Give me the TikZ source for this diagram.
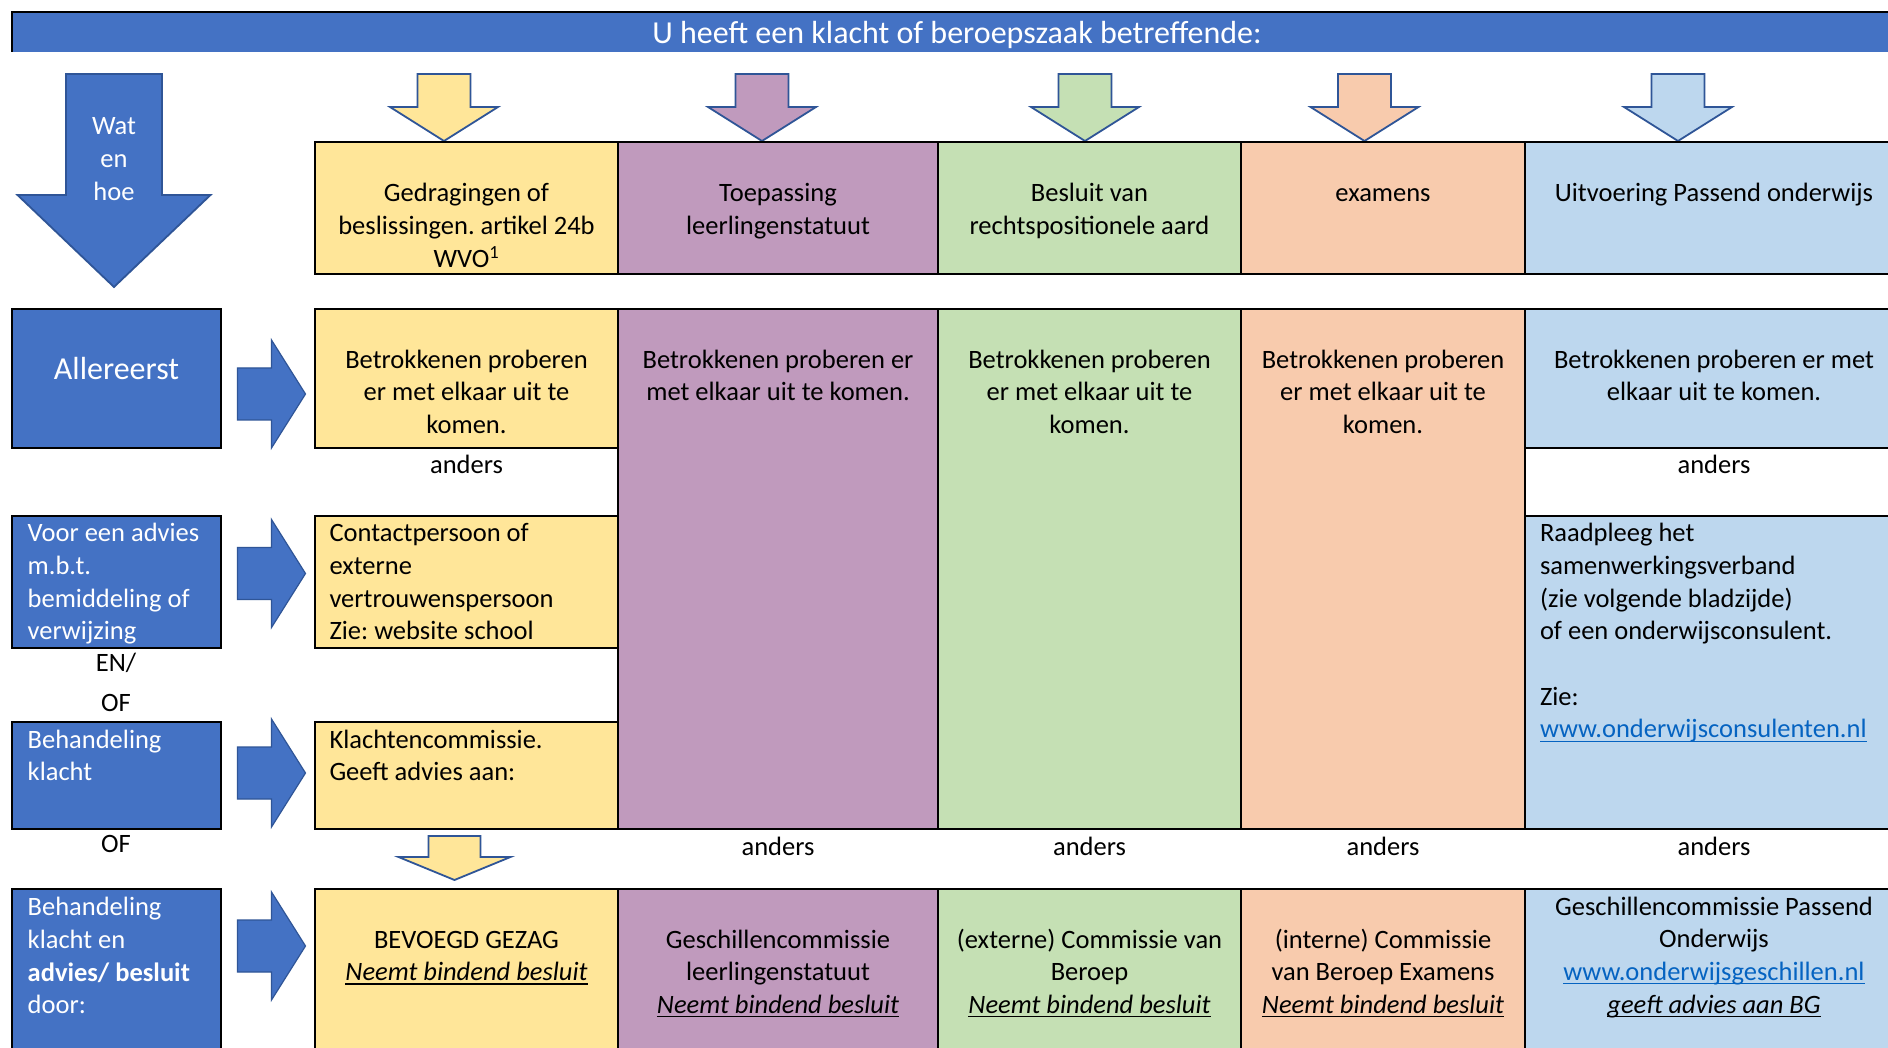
\documentclass[tikz,border=0pt]{standalone}
\usepackage{fontspec}
\setmainfont{Carlito}
\usetikzlibrary{calc}
\frenchspacing
\definecolor{myblue}{HTML}{4472C4}
\definecolor{arrline}{HTML}{2F5597}
\definecolor{cyel}{HTML}{FFE699}
\definecolor{cpur}{HTML}{C09ABD}
\definecolor{cgrn}{HTML}{C5E0B4}
\definecolor{corg}{HTML}{F8CBAD}
\definecolor{clbl}{HTML}{BDD7EE}
\definecolor{clink}{HTML}{0563C1}
\newcommand{\bodyfont}{\fontsize{26.5}{32.7}\selectfont\frenchspacing}
\newcommand{\bigfont}{\fontsize{32}{39}\selectfont}
\newcommand{\fl}{\rule{0pt}{22pt}}
\newcommand{\flb}{\rule{0pt}{26pt}}
\newsavebox{\ulbox}
\newcommand{\undl}[1]{\sbox\ulbox{#1}\rlap{\rule[-4pt]{\wd\ulbox}{1.4pt}}\usebox\ulbox}
% down block arrow: cx, top, shaft half width, head half width, shaft length, head length, fill
\newcommand{\DArrow}[7]{%
  \draw[draw=arrline,line width=1.8pt,fill=#7,line join=miter]
    ({#1-#3},#2) -- ({#1+#3},#2) -- ({#1+#3},{#2+#5}) -- ({#1+#4},{#2+#5})
    -- (#1,{#2+#5+#6}) -- ({#1-#4},{#2+#5}) -- ({#1-#3},{#2+#5}) -- cycle;}
% right block arrow: left x, centre y
\newcommand{\RArrow}[2]{%
  \draw[draw=arrline,line width=1.2pt,fill=myblue,line join=miter]
    (#1,{#2-26}) -- ({#1+34},{#2-26}) -- ({#1+34},{#2-54}) -- ({#1+68},#2)
    -- ({#1+34},{#2+54}) -- ({#1+34},{#2+26}) -- (#1,{#2+26}) -- cycle;}
\begin{document}
\begin{tikzpicture}[x=1pt,y=-1pt,
  cell/.style={draw=black,line width=2pt,anchor=north west,inner sep=0pt,outer sep=0pt},
  lbox/.style={cell,fill=myblue},
  txt/.style={inner sep=0pt,outer sep=0pt,font=\bodyfont,align=center,anchor=north},
  txtl/.style={inner sep=0pt,outer sep=0pt,font=\bodyfont,align=left,anchor=north west},
  wtxt/.style={txt,text=white},
  wtxtl/.style={txtl,text=white}]
\useasboundingbox (0,0) rectangle (1888,1048);
\fill[white] (0,0) rectangle (1888,1048);

% banner
\node[fill=myblue,anchor=north west,inner sep=0pt,outer sep=0pt,minimum width=1890pt,minimum height=40pt] (banner) at (12,12) {};
\draw[line width=2pt] (banner.north east) -- (banner.north west) -- (banner.south west);
\node[wtxt,font=\bigfont] (bannertxt) at ($(banner.north)+(0,5.3)$) {\flb U heeft een klacht of beroepszaak betreffende:};

% big arrow
\DArrow{114}{74}{48}{96.5}{121}{92}{myblue}
\node[wtxt] (wat) at (114,113) {\fl Wat\\en\\hoe};

% top arrows
\DArrow{444}{74}{26.5}{54}{33}{34}{cyel}
\DArrow{762}{74}{26.5}{54}{33}{34}{cpur}
\DArrow{1085}{74}{26.5}{54}{33}{34}{cgrn}
\DArrow{1364.5}{74}{26.5}{54}{33}{34}{corg}
\DArrow{1678}{74}{26.5}{54}{33}{34}{clbl}

% header row
\node[cell,fill=cyel,minimum width=303pt,minimum height=132pt] (h1) at (315,142) {};
\node[cell,fill=cpur,minimum width=320pt,minimum height=132pt] (h2) at (618,142) {};
\node[cell,fill=cgrn,minimum width=303pt,minimum height=132pt] (h3) at (938,142) {};
\node[cell,fill=corg,minimum width=284pt,minimum height=132pt] (h4) at (1241,142) {};
\node[cell,fill=clbl,minimum width=378pt,minimum height=132pt] (h5) at (1525,142) {};
\node[txt] (th1) at ($(h1.north)+(0,38)$) {\fl Gedragingen of\\beslissingen. artikel 24b\\WVO\textsuperscript{1}};
\node[txt] (th2) at ($(h2.north)+(0,38)$) {\fl Toepassing\\leerlingenstatuut};
\node[txt] (th3) at ($(h3.north)+(0,38)$) {\fl Besluit van\\rechtspositionele aard};
\node[txt] (th4) at ($(h4.north)+(0,38)$) {\fl examens};
\node[txt] (th5) at ($(h5.north)+(0,38)$) {\fl Uitvoering Passend onderwijs};

% left boxes
\node[lbox,minimum width=209pt,minimum height=139pt] (L1) at (12,309) {};
\node[lbox,minimum width=209pt,minimum height=132pt] (L2) at (12,516) {};
\node[lbox,minimum width=209pt,minimum height=107pt] (L3) at (12,722) {};
\node[lbox,minimum width=209pt,minimum height=180pt] (L4) at (12,889) {};
\node[wtxt,font=\bigfont] (tL1) at ($(L1.north)+(0,45)$) {\flb Allereerst};
\node[wtxtl] (tL2) at ($(L2.north west)+(15.7,3.7)$) {\fl Voor een advies\\m.b.t.\\bemiddeling of\\verwijzing};
\node[wtxtl] (tL3) at ($(L3.north west)+(15.7,4)$) {\fl Behandeling\\klacht};
\node[wtxtl] (tL4) at ($(L4.north west)+(15.7,4.7)$) {\fl Behandeling\\klacht en\\\textbf{advies/ besluit}\\door:};
\node[txt] (en) at (116,649.7) {\fl EN/};
\node[txt] (of1) at (116,689.7) {\fl OF};
\node[txt] (of2) at (116,830.7) {\fl OF};

% right arrows
\RArrow{237.5}{394}
\RArrow{237.5}{573.5}
\RArrow{237.5}{773}
\RArrow{237.5}{946}

% column 1
\node[cell,fill=cyel,minimum width=303pt,minimum height=139pt] (a1) at (315,309) {};
\node[cell,fill=cyel,minimum width=303pt,minimum height=132pt] (a2) at (315,516) {};
\node[cell,fill=cyel,minimum width=303pt,minimum height=107pt] (a3) at (315,722) {};
% columns 2-4
\node[cell,fill=cpur,minimum width=320pt,minimum height=520pt] (m2) at (618,309) {};
\node[cell,fill=cgrn,minimum width=303pt,minimum height=520pt] (m3) at (938,309) {};
\node[cell,fill=corg,minimum width=284pt,minimum height=520pt] (m4) at (1241,309) {};
% column 5
\node[cell,fill=clbl,minimum width=378pt,minimum height=139pt] (b1) at (1525,309) {};
\node[cell,fill=white,minimum width=378pt,minimum height=68pt] (bw) at (1525,448) {};
\node[cell,fill=clbl,minimum width=378pt,minimum height=313pt] (b2) at (1525,516) {};

\node[txt] (ta1) at ($(a1.north)+(0,37.3)$) {\fl Betrokkenen proberen\\er met elkaar uit te\\komen.};
\node[txt] (tm2) at ($(m2.north)+(0,37.3)$) {\fl Betrokkenen proberen er\\met elkaar uit te komen.};
\node[txt] (tm3) at ($(m3.north)+(0,37.3)$) {\fl Betrokkenen proberen\\er met elkaar uit te\\komen.};
\node[txt] (tm4) at ($(m4.north)+(0,37.3)$) {\fl Betrokkenen proberen\\er met elkaar uit te\\komen.};
\node[txt] (tb1) at ($(b1.north)+(0,37.3)$) {\fl Betrokkenen proberen er met\\elkaar uit te komen.};
\node[txt] (and1) at ($(a1.south)+(0,3.5)$) {\fl anders};
\node[txt] (and5) at ($(bw.north)+(0,3.5)$) {\fl anders};
\node[txtl] (ta2) at ($(a2.north west)+(14.5,3.7)$) {\fl Contactpersoon of\\externe\\vertrouwenspersoon\\Zie: website school};
\node[txtl] (ta3) at ($(a3.north west)+(14.5,4)$) {\fl Klachtencommissie.\\Geeft advies aan:};
\node[txtl] (tb2) at ($(b2.north west)+(15,3.7)$) {\fl Raadpleeg het\\samenwerkingsverband\\(zie volgende bladzijde)\\of een onderwijsconsulent.\\\mbox{}\\Zie:\\{\color{clink}\undl{www.onderwijsconsulenten.nl}}};

% bottom yellow arrow
\DArrow{454.5}{836}{26}{56}{21}{23}{cyel}

% anders row
\node[txt] (and2) at ($(m2.south)+(0,4.5)$) {\fl anders};
\node[txt] (and3) at ($(m3.south)+(0,4.5)$) {\fl anders};
\node[txt] (and4) at ($(m4.south)+(0,4.5)$) {\fl anders};
\node[txt] (and6) at ($(b2.south)+(0,4.5)$) {\fl anders};

% bottom row
\node[cell,fill=cyel,minimum width=303pt,minimum height=180pt] (z1) at (315,889) {};
\node[cell,fill=cpur,minimum width=320pt,minimum height=180pt] (z2) at (618,889) {};
\node[cell,fill=cgrn,minimum width=303pt,minimum height=180pt] (z3) at (938,889) {};
\node[cell,fill=corg,minimum width=284pt,minimum height=180pt] (z4) at (1241,889) {};
\node[cell,fill=clbl,minimum width=378pt,minimum height=180pt] (z5) at (1525,889) {};
\node[txt] (tz1) at ($(z1.north)+(0,37)$) {\fl BEVOEGD GEZAG\\\undl{\textit{Neemt bindend besluit}}};
\node[txt] (tz2) at ($(z2.north)+(0,37)$) {\fl Geschillencommissie\\leerlingenstatuut\\\undl{\textit{Neemt bindend besluit}}};
\node[txt] (tz3) at ($(z3.north)+(0,37)$) {\fl (externe) Commissie van\\Beroep\\\undl{\textit{Neemt bindend besluit}}};
\node[txt] (tz4) at ($(z4.north)+(0,37)$) {\fl (interne) Commissie\\van Beroep Examens\\\undl{\textit{Neemt bindend besluit}}};
\node[txt] (tz5) at ($(z5.north)+(0,4)$) {\fl Geschillencommissie Passend\\Onderwijs\\{\color{clink}\undl{www.onderwijsgeschillen.nl}}\\\undl{\textit{geeft advies aan BG}}};
\end{tikzpicture}
\end{document}
